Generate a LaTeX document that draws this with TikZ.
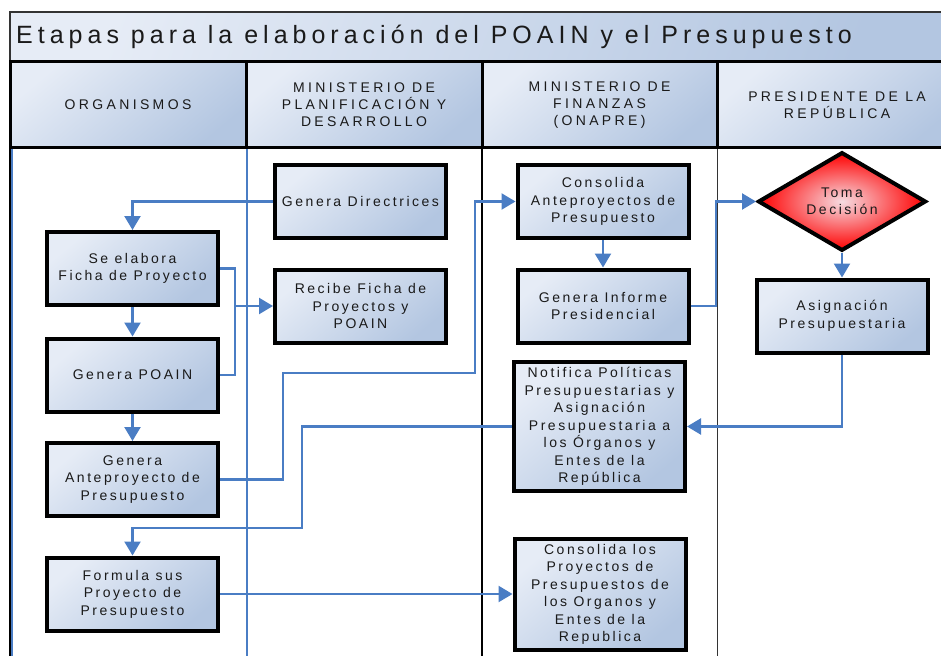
\documentclass[tikz,border=0pt]{standalone}
\usepackage{fontspec}
\setmainfont{Liberation Sans}
\newfontfamily\boxfont[LetterSpace=18]{Liberation Sans}
\newfontfamily\headfont[LetterSpace=24]{Liberation Sans}
\newfontfamily\titlefont[LetterSpace=20]{Liberation Sans}
\usetikzlibrary{shapes.geometric,arrows.meta}
\definecolor{lightb}{HTML}{E6ECF6}
\definecolor{darkb}{HTML}{B3C6E1}
\definecolor{flow}{HTML}{4A7DC4}
\definecolor{txt}{HTML}{1A1A1A}
\definecolor{pinkc}{HTML}{F6DCE2}
\begin{document}
\begin{tikzpicture}[x=1pt,y=-1pt,
  stepbox/.style={rectangle, draw=black, line width=4pt, top color=lightb, bottom color=darkb, shading angle=40,
    minimum width=171pt, minimum height=73pt, inner sep=0pt, align=center, text=txt,
    font=\boxfont\fontsize{14}{17.5}\selectfont},
  decbox/.style={diamond, draw=black, line width=4pt, inner color=pinkc, outer color=red,
    minimum width=168pt, minimum height=71pt, inner sep=0pt, align=center, text=txt,
    font=\boxfont\fontsize{14}{17.5}\selectfont},
  headcell/.style={rectangle, draw=black, line width=3pt, top color=lightb, bottom color=darkb, shading angle=40,
    minimum height=86pt, inner sep=0pt, align=center, text=txt,
    font=\headfont\fontsize{14}{17}\selectfont},
  conn/.style={draw=flow, line width=2.3pt, -{Triangle[length=14pt,width=16pt]}},
  plain/.style={draw=flow, line width=2.3pt},
]
\useasboundingbox (0,0) rectangle (941,655);
\fill[white] (0,0) rectangle (941,655);

% title bar
\path[draw=black!80, line width=1.5pt, top color=lightb, bottom color=darkb, shading angle=70] (10,12) rectangle (960,62);
\node[anchor=west, inner sep=0pt, text=txt, font=\titlefont\fontsize{25}{29}\selectfont] (title) at (16,37) {Etapas para la elaboración del POAIN y el Presupuesto};

% header cells
\node[headcell, minimum width=236pt] (h1) at (128,105) {ORGANISMOS};
\node[headcell, minimum width=236pt] (h2) at (364,105) {MINISTERIO DE\\PLANIFICACIÓN Y\\DESARROLLO};
\node[headcell, minimum width=235pt] (h3) at (599.5,105) {MINISTERIO DE\\FINANZAS\\(ONAPRE)};
\node[headcell, minimum width=240pt] (h4) at (837,105) {PRESIDENTE DE LA\\REPÚBLICA};

% lanes
\draw[black, line width=2pt] (10,148) -- (10,660);
\draw[flow, line width=1.3pt] (12,149.5) -- (12,660);
\draw[flow, line width=1.5pt] (247,149.5) -- (247,660);
\draw[black, line width=1.3pt] (482,149.5) -- (482,660);
\draw[black!80, line width=1pt] (717,149.5) -- (717,660);

% boxes
\node[stepbox] (gd) at (360.5,201.5) {Genera Directrices};
\node[stepbox] (rf) at (360.5,306) {Recibe Ficha de\\Proyectos y\\POAIN};
\node[stepbox] (se) at (132.5,268.5) {Se elabora\\Ficha de Proyecto};
\node[stepbox] (gp) at (132.5,375) {Genera POAIN};
\node[stepbox] (ga) at (132.5,479.5) {Genera\\Anteproyecto de\\Presupuesto};
\node[stepbox] (fs) at (132.5,594) {Formula sus\\Proyecto de\\Presupuesto};
\node[stepbox] (ca) at (603,201.5) {Consolida\\Anteproyectos de\\Presupuesto};
\node[stepbox] (gi) at (603,306) {Genera Informe\\Presidencial};
\node[stepbox, minimum height=129pt] (no) at (599.5,426.5) {Notifica Políticas\\Presupuestarias y\\Asignación\\Presupuestaria a\\los Órganos y\\Entes de la\\República};
\node[stepbox, minimum height=111pt] (cl) at (600,594.5) {Consolida los\\Proyectos de\\Presupuestos de\\los Organos y\\Entes de la\\Republica};
\node[decbox] (dec) at (842,201.5) {Toma\\Decisión};
\node[stepbox] (as) at (842,316) {Asignación\\Presupuestaria};

% connectors
\coordinate (j1) at (235,306);
\draw[conn] (gd.west) -| (se.north);
\draw[plain] (se.east) -| (j1);
\draw[plain] (gp.east) -| (j1);
\draw[conn] (j1) -- (rf.west);
\draw[conn] (se.south) -- (gp.north);
\draw[conn] (gp.south) -- (ga.north);
\draw[conn] (ga.east) -| (283,373) -| (475,201.5) -- (ca.west);
\draw[conn] (ca.south) -- (gi.north);
\draw[conn] (gi.east) -| (716,201.5) -- (dec.west);
\draw[conn] (dec.south) -- (as.north);
\draw[conn] (as.south) |- (no.east);
\draw[conn] (no.west) -| (302,528) -| (fs.north);
\draw[conn] (fs.east) -- (fs.east -| cl.west);
\end{tikzpicture}
\end{document}
